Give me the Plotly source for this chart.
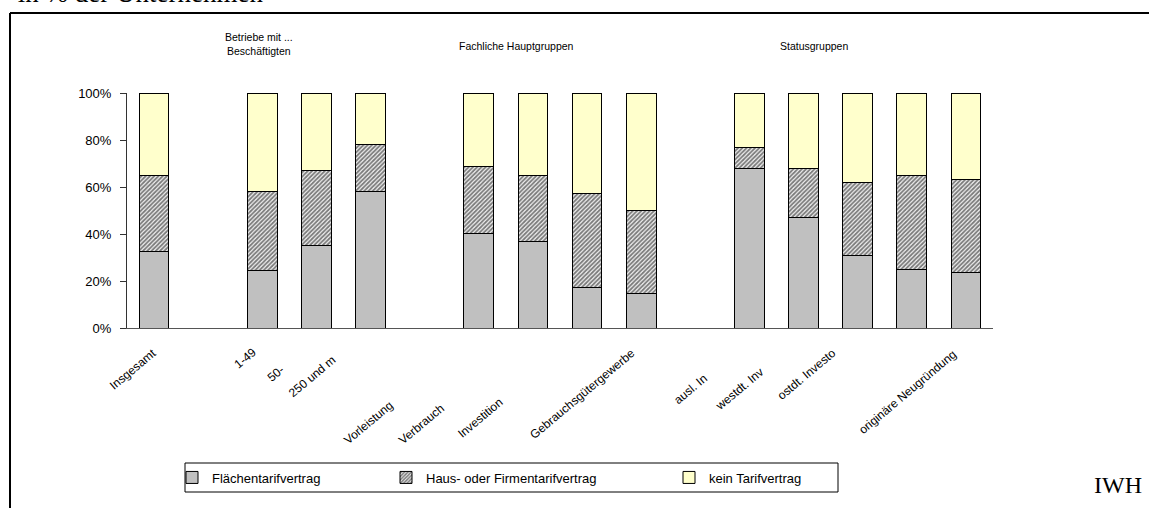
import plotly.graph_objects as go

# ---------------- data ----------------
groups = [
    ["Insgesamt"],
    ["1-49", "50-249", "250 und mehr"],
    ["Vorleistungsgütergewerbe", "Verbrauchsgütergewerbe", "Investitionsgütergewerbe", "Gebrauchsgütergewerbe"],
    ["ausl. Investor", "westdt. Investor", "ostdt. Investor", "originäre Neugründung", "sonstige"],
]
group_titles = ["", "Betriebe mit ...<br>Beschäftigten", "Fachliche Hauptgruppen", "Statusgruppen"]

flaechen = [32.5, 24.3, 35.3, 58.3, 40.4, 37.0, 17.4, 14.5, 67.7, 46.9, 30.9, 24.7, 23.7]
haus     = [32.3, 34.0, 31.9, 19.6, 28.5, 28.1, 40.0, 35.7,  9.0, 20.8, 31.2, 40.1, 39.6]
kein     = [35.2, 41.7, 32.8, 22.1, 31.1, 34.9, 42.6, 49.8, 23.3, 32.3, 37.9, 35.2, 36.7]

series_names = ["Flächentarifvertrag", "Haus- oder Firmentarifvertrag", "kein Tarifvertrag"]

# tick labels as they are shown (clipped) in the reference
tick_labels = ["Insgesamt", "1-49", "50-", "250 und m", "Vorleistung", "Verbrauch", "Investition",
               "Gebrauchsgütergewerbe", "ausl. In", "westdt. Inv", "ostdt. Investo", "originäre Neugründung"]

y_ticks = [0, 20, 40, 60, 80, 100]
y_tick_text = ["0%", "20%", "40%", "60%", "80%", "100%"]

# ---------------- layout geometry (pixels) ----------------
W, H = 1149, 508
L, R, T, B = 127, 993, 93, 328

def px(x):
    return (x - L) / (R - L)

def py(y):
    return (B - y) / (B - T)

# slot positions: one empty slot between groups
positions = []
s = 0
for g in groups:
    for _ in g:
        positions.append(s)
        s += 1
    s += 1
categories = [c for g in groups for c in g]

FONT = "Liberation Sans, Arial, sans-serif"
SERIF = "Liberation Serif, Times New Roman, serif"

fig = go.Figure()
fig.add_trace(go.Bar(x=positions, y=flaechen, name=series_names[0], width=0.55, legend="legend",
                     marker=dict(color="#C0C0C0", line=dict(color="black", width=1)),
                     customdata=categories))
fig.add_trace(go.Bar(x=positions, y=haus, name=series_names[1], width=0.55, legend="legend2",
                     marker=dict(color="white", line=dict(color="black", width=1),
                                 pattern=dict(shape="/", fgcolor="#000000", bgcolor="#f4f4f4",
                                              size=3, solidity=0.6)),
                     customdata=categories))
fig.add_trace(go.Bar(x=positions, y=kein, name=series_names[2], width=0.55, legend="legend3",
                     marker=dict(color="#FFFFCC", line=dict(color="black", width=1)),
                     customdata=categories))

# tick label placement (right edge / top edge in pixels), mimicking reference
label_anchor = [(162, 343), (262, 342), (289, 360), (342, 350), (398, 396), (450, 398),
                (508, 392), (640, 343), (713, 368), (769, 362), (842, 343), (962, 344)]

annotations = []
for txt, (rx, ty) in zip(tick_labels, label_anchor):
    annotations.append(dict(text=txt, x=px(rx), y=py(ty), xref="paper", yref="paper",
                            xanchor="right", yanchor="top", textangle=-40, showarrow=False,
                            font=dict(family=FONT, size=12, color="black")))

# group titles (centre x, centre y in pixels)
title_pos = [None, (259, 44), (516, 46), (814, 46)]
for t, pos in zip(group_titles, title_pos):
    if not t:
        continue
    annotations.append(dict(text=t, x=px(pos[0]), y=py(pos[1]), xref="paper", yref="paper",
                            xanchor="center", yanchor="middle", showarrow=False,
                            font=dict(family=FONT, size=10.5, color="black")))

# top caption (cut off, as in the source) and IWH
annotations.append(dict(text="- in % der Unternehmen -", x=px(0), y=py(10), xref="paper", yref="paper",
                        xanchor="left", yanchor="bottom", showarrow=False,
                        font=dict(family=SERIF, size=27, color="black")))
annotations.append(dict(text="IWH", x=px(1144), y=py(485), xref="paper", yref="paper",
                        xanchor="right", yanchor="middle", showarrow=False,
                        font=dict(family=SERIF, size=24, color="black")))

shapes = [
    dict(type="line", xref="paper", yref="paper", x0=px(10), x1=px(1160), y0=py(13), y1=py(13),
         line=dict(color="black", width=2)),
    dict(type="line", xref="paper", yref="paper", x0=px(10), x1=px(10), y0=py(13), y1=py(520),
         line=dict(color="black", width=2)),
    # legend frame
    dict(type="rect", xref="paper", yref="paper", x0=px(185), x1=px(838), y0=py(463), y1=py(492),
         line=dict(color="black", width=1), fillcolor="rgba(0,0,0,0)"),
]

leg_common = dict(orientation="h", xanchor="left", yanchor="middle", bgcolor="rgba(0,0,0,0)",
                  borderwidth=0, font=dict(family=FONT, size=13, color="black"), itemwidth=30)
leg_y = py(477.5)

fig.update_layout(
    width=W, height=H,
    margin=dict(l=L, r=W - R, t=T, b=H - B, pad=0),
    barmode="stack",
    plot_bgcolor="white", paper_bgcolor="white",
    font=dict(family=FONT, size=12, color="black"),
    showlegend=True,
    legend=dict(x=px(172), y=leg_y, **leg_common),
    legend2=dict(x=px(386), y=leg_y, **leg_common),
    legend3=dict(x=px(669), y=leg_y, **leg_common),
    annotations=annotations,
    shapes=shapes,
    xaxis=dict(range=[-0.5, s - 1.5], showticklabels=False, showgrid=False, zeroline=False,
               showline=True, linecolor="#555555", linewidth=1, ticks=""),
    yaxis=dict(range=[0, 100], tickvals=y_ticks, ticktext=y_tick_text, showgrid=False, zeroline=False,
               showline=True, linecolor="#333333", linewidth=1, ticks="outside", ticklen=6,
               tickcolor="#333333", tickfont=dict(family=FONT, size=13, color="black"),
               ticklabelstandoff=6),
)

fig.write_html("out.html", config={"displayModeBar": False},
               post_script="document.body.style.margin='0px';document.body.style.overflow='hidden';")
